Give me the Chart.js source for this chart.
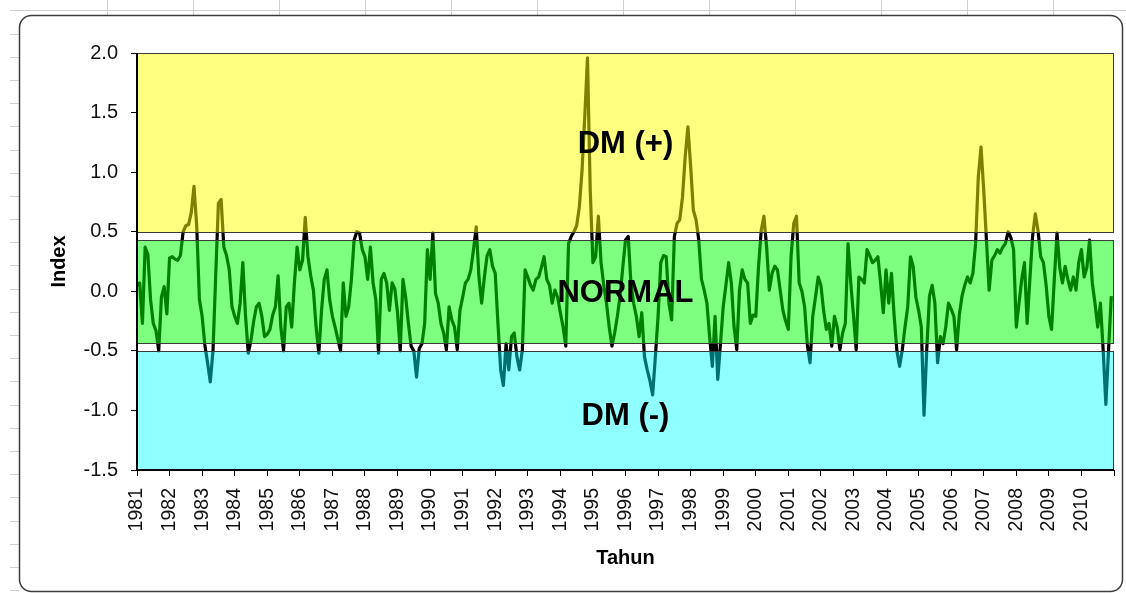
<!DOCTYPE html>
<html>
<head>
<meta charset="utf-8">
<script src="https://cdn.jsdelivr.net/npm/chart.js@4.4.1/dist/chart.umd.min.js"></script>
<style>
html,body{margin:0;padding:0;background:#fff;}
#wrap{width:1126px;height:593px;}
</style>
</head>
<body>
<div id="wrap"><canvas id="c" width="1126" height="593"></canvas></div>
<script>
// Tick labels (one per January)
const years = [1981,1982,1983,1984,1985,1986,1987,1988,1989,1990,
               1991,1992,1993,1994,1995,1996,1997,1998,1999,2000,
               2001,2002,2003,2004,2005,2006,2007,2008,2009,2010];

// Monthly Dipole Mode index
const dmi1981_1990 = [
  0.05, 0.07,-0.27, 0.37, 0.31,-0.07,-0.27,-0.33,-0.50,-0.05, 0.04,-0.19,
  0.28, 0.29, 0.27, 0.26, 0.30, 0.50, 0.55, 0.56, 0.66, 0.88, 0.55,-0.07,
 -0.21,-0.45,-0.60,-0.76,-0.50, 0.13, 0.74, 0.77, 0.37, 0.30, 0.18,-0.13,
 -0.21,-0.27,-0.10, 0.24,-0.21,-0.52,-0.41,-0.25,-0.13,-0.10,-0.21,-0.38,
 -0.36,-0.32,-0.20,-0.13, 0.13,-0.30,-0.50,-0.13,-0.10,-0.30, 0.07, 0.37,
  0.18, 0.26, 0.62, 0.29, 0.13, 0.01,-0.30,-0.52,-0.16, 0.10, 0.18,-0.07,
 -0.21,-0.30,-0.40,-0.50, 0.07,-0.21,-0.13, 0.10, 0.43, 0.50, 0.49, 0.35,
  0.29, 0.10, 0.37, 0.07,-0.07,-0.52, 0.10, 0.15, 0.07,-0.16, 0.07, 0.02,
 -0.18,-0.50, 0.10,-0.05,-0.27,-0.46,-0.50,-0.72,-0.48,-0.44,-0.27, 0.35,
  0.10, 0.49,-0.02,-0.10,-0.27,-0.35,-0.49,-0.13,-0.24,-0.30,-0.49,-0.16
];
const dmi1991_2000 = [
 -0.05, 0.07, 0.10, 0.18, 0.35, 0.54, 0.12,-0.10, 0.12, 0.30, 0.35, 0.21,
  0.15,-0.27,-0.66,-0.79,-0.44,-0.66,-0.38,-0.35,-0.55,-0.66,-0.49, 0.18,
  0.12, 0.05, 0.01, 0.10, 0.12, 0.20, 0.29, 0.10, 0.05,-0.10, 0.01,-0.05,
 -0.18,-0.30,-0.46, 0.40, 0.46, 0.50, 0.55, 0.71, 1.02, 1.47, 1.96, 0.85,
  0.24, 0.29, 0.63, 0.24, 0.05,-0.10,-0.30,-0.46,-0.35,-0.21,-0.04, 0.20,
  0.43, 0.46, 0.07,-0.10,-0.21,-0.38,-0.18,-0.55,-0.66,-0.75,-0.87,-0.55,
 -0.21, 0.24, 0.30, 0.29,-0.10,-0.24, 0.46, 0.57, 0.60, 0.79, 1.13, 1.38,
  1.05, 0.68, 0.60, 0.43, 0.10, 0.01,-0.10,-0.38,-0.63,-0.21,-0.74,-0.44,
 -0.13, 0.05, 0.24, 0.07,-0.30,-0.49, 0.01, 0.18, 0.10, 0.07,-0.27,-0.20,
 -0.21, 0.20, 0.51, 0.63, 0.37, 0.01, 0.15, 0.21, 0.18, 0.01,-0.16,-0.25
];
const dmi2001_2010 = [
 -0.32, 0.29, 0.57, 0.63, 0.07, 0.00,-0.13,-0.45,-0.60,-0.21,-0.05, 0.12,
  0.05,-0.16,-0.32,-0.27,-0.46,-0.21,-0.30,-0.49,-0.35,-0.27, 0.40, 0.07,
 -0.20,-0.49, 0.12, 0.10, 0.07, 0.35, 0.30, 0.24, 0.26, 0.29, 0.07,-0.18,
  0.18,-0.10, 0.15,-0.21,-0.50,-0.63,-0.49,-0.30,-0.13, 0.29, 0.21,-0.05,
 -0.16,-0.30,-1.04,-0.49,-0.04, 0.05,-0.10,-0.60,-0.38,-0.44,-0.30,-0.10,
 -0.15,-0.21,-0.49,-0.20,-0.04, 0.05, 0.12, 0.07, 0.15, 0.40, 0.96, 1.21,
  0.85, 0.43, 0.01, 0.26, 0.30, 0.35, 0.32, 0.37, 0.40, 0.50, 0.45, 0.35,
 -0.30,-0.10, 0.10, 0.24,-0.27, 0.10, 0.46, 0.65, 0.51, 0.29, 0.24, 0.05,
 -0.21,-0.32, 0.10, 0.49, 0.20, 0.07, 0.21, 0.10, 0.01, 0.12, 0.01, 0.24,
  0.35, 0.12, 0.20, 0.43, 0.07,-0.10,-0.30,-0.10,-0.49,-0.95,-0.49,-0.04
];

// Classification bands [low, high] and their labels
const bandPositive = [0.5, 2.0];
const bandNormal   = [-0.43, 0.43];
const bandNegative = [-1.5, -0.5];
const bandNames    = ['DM (+)', 'NORMAL', 'DM (-)'];
const bandNameAt   = [1.25, 0.0, -1.03];

const dmi = [...dmi1981_1990, ...dmi1991_2000, ...dmi2001_2010];
const points = dmi.map((v, i) => ({x: i, y: v}));

const FONT = '"Liberation Sans", Arial, sans-serif';

const framePlugin = {
  id: 'frame',
  beforeDraw(chart) {
    const ctx = chart.ctx;
    ctx.save();
    ctx.fillStyle = '#fff';
    ctx.fillRect(0, 0, chart.width, chart.height);
    ctx.strokeStyle = '#cfcfcf';
    ctx.lineWidth = 1;
    ctx.beginPath();
    ctx.moveTo(10, 10.5); ctx.lineTo(chart.width, 10.5);
    for (let x = 107.5; x < chart.width; x += 86) { ctx.moveTo(x, 0); ctx.lineTo(x, 15); }
    for (let y = 33.5; y < chart.height; y += 23.2) { ctx.moveTo(10, Math.round(y) + 0.5); ctx.lineTo(19, Math.round(y) + 0.5); }
    ctx.stroke();
    ctx.fillStyle = '#fff';
    ctx.strokeStyle = '#3c3c3c';
    ctx.lineWidth = 1.5;
    ctx.beginPath();
    ctx.roundRect(19.5, 15.5, 1103, 576, 12);
    ctx.fill();
    ctx.stroke();
    ctx.restore();
  }
};

const bandPlugin = {
  id: 'bands',
  afterDatasetsDraw(chart) {
    const {ctx, chartArea: a, scales: {x, y}} = chart;
    const bands = [
      [bandPositive, 'rgba(255,255,0,0.5)'],
      [bandNormal,   'rgba(0,255,0,0.5)'],
      [bandNegative, 'rgba(0,255,255,0.44)']
    ];
    ctx.save();
    for (const [r, col] of bands) {
      const top = Math.round(y.getPixelForValue(r[1]));
      const bot = Math.round(y.getPixelForValue(r[0]));
      ctx.fillStyle = col;
      ctx.fillRect(a.left, top, a.right - a.left, bot - top);
      ctx.strokeStyle = '#3a3a3a';
      ctx.lineWidth = 1;
      ctx.strokeRect(a.left + 0.5, top + 0.5, a.right - a.left - 1, bot - top);
    }
    ctx.strokeStyle = '#000';
    ctx.lineWidth = 2;
    ctx.beginPath();
    ctx.moveTo(a.left, a.top);
    ctx.lineTo(a.left, a.bottom);
    ctx.lineTo(a.right, a.bottom);
    ctx.stroke();

    ctx.fillStyle = '#000';
    ctx.font = 'bold 31px ' + FONT;
    ctx.textAlign = 'center';
    ctx.textBaseline = 'alphabetic';
    const cx = (a.left + a.right) / 2;
    bandNames.forEach((t, i) => {
      ctx.fillText(t, cx, y.getPixelForValue(bandNameAt[i]) + 11);
    });
    ctx.restore();
  }
};

new Chart(document.getElementById('c'), {
  type: 'line',
  data: {
    datasets: [{
      data: points,
      borderColor: '#000',
      borderWidth: 3.2,
      borderJoinStyle: 'round',
      pointRadius: 0,
      tension: 0,
      fill: false
    }]
  },
  options: {
    responsive: false,
    animation: false,
    devicePixelRatio: 1,
    layout: { padding: { top: 53, right: 12, bottom: 0, left: 0 } },
    plugins: { legend: { display: false }, tooltip: { enabled: false } },
    scales: {
      x: {
        type: 'linear',
        min: 0,
        max: 360,
        grid: { display: true, drawOnChartArea: false, drawTicks: true, tickLength: 6, color: '#000' },
        border: { display: true, color: '#000', width: 1 },
        ticks: {
          stepSize: 12,
          autoSkip: false,
          maxTicksLimit: 100,
          minRotation: 90,
          maxRotation: 90,
          padding: 12,
          color: '#111',
          font: { family: FONT, size: 19.5 },
          callback: (v) => (years[v / 12] !== undefined ? String(years[v / 12]) : '')
        },
        title: {
          display: true,
          text: 'Tahun',
          color: '#000',
          font: { family: FONT, size: 20, weight: 'bold' },
          padding: { top: 0, bottom: 23 }
        },
        afterFit: (s) => { s.height = 123; s.paddingLeft = 0; s.paddingRight = 0; }
      },
      y: {
        min: -1.5,
        max: 2.0,
        grid: { display: true, drawOnChartArea: false, drawTicks: true, tickLength: 6, color: '#000' },
        border: { display: true, color: '#000', width: 1 },
        ticks: {
          stepSize: 0.5,
          padding: 13,
          color: '#111',
          font: { family: FONT, size: 20 },
          callback: (v) => Number(v).toFixed(1)
        },
        title: {
          display: true,
          text: 'Index',
          color: '#000',
          font: { family: FONT, size: 20, weight: 'bold' },
          padding: { top: 47, bottom: 0 }
        },
        afterFit: (s) => { s.width = 137; }
      }
    }
  },
  plugins: [framePlugin, bandPlugin]
});
</script>
</body>
</html>
